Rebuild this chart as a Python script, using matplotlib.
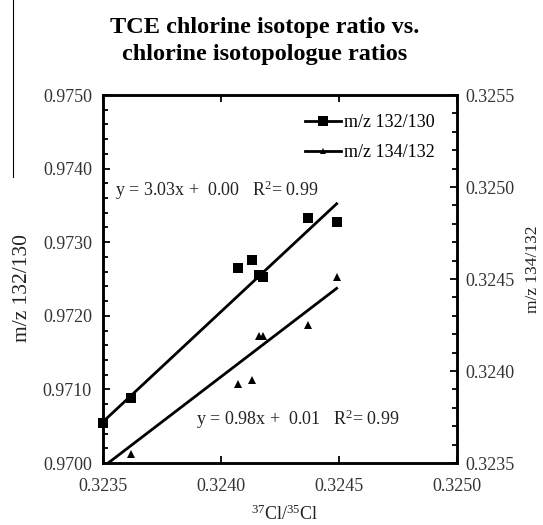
import numpy as np
import matplotlib
matplotlib.use("Agg")
import matplotlib.pyplot as plt
from matplotlib.lines import Line2D
from matplotlib.ticker import MultipleLocator, FormatStrFormatter

plt.rcParams['font.family'] = 'serif'
plt.rcParams['font.serif'] = ['Liberation Serif', 'DejaVu Serif']
plt.rcParams['mathtext.fontset'] = 'custom'
plt.rcParams['mathtext.rm'] = 'Liberation Serif'
plt.rcParams['mathtext.it'] = 'Liberation Serif:italic'

title = "TCE chlorine isotope ratio vs.\nchlorine isotopologue ratios"

# 37Cl/35Cl vs m/z 132/130
x_132_130 = [0.32350, 0.32362, 0.32407, 0.32413, 0.32416, 0.32418, 0.32437, 0.32449]
y_132_130 = [0.97054, 0.97088, 0.97265, 0.97276, 0.97256, 0.97253, 0.97333, 0.97327]

# 37Cl/35Cl vs m/z 134/132
x_134_132 = [0.32362, 0.32407, 0.32413, 0.32416, 0.32418, 0.32437, 0.32449]
y_134_132 = [0.32355, 0.32393, 0.32395, 0.32419, 0.32419, 0.32425, 0.32451]

# linear fits as drawn (slope, intercept) and their x range
fit_132_130 = [2.992, 0.002648]
fit_134_132 = [0.9804, 0.006319]
fit_x_range = [0.32350, 0.32449]

legend_labels = ["m/z 132/130", "m/z 134/132"]
eq1 = r"y = 3.03x +  0.00   R$^2$= 0.99"
eq2 = r"y = 0.98x +  0.01   R$^2$= 0.99"

W, H = 543, 525
fig = plt.figure(figsize=(W / 100, H / 100), dpi=100)
ax = fig.add_axes([103 / W, 1 - 463 / H, (457 - 103) / W, (463 - 95) / H])
ax2 = ax.twinx()

fs = 13

xf = np.array(fit_x_range)

# series 1
ax.plot(x_132_130, y_132_130, 's', color='black', ms=6.5, mew=0, clip_on=False)
ax.plot(xf, np.polyval(fit_132_130, xf), '-', color='black', lw=2)

# series 2
ax2.plot(x_134_132, y_134_132, '^', color='black', ms=5.5, mew=0)
ax2.plot(xf, np.polyval(fit_134_132, xf), '-', color='black', lw=2)

ax.set_xlim(0.3235, 0.3250)
ax.set_ylim(0.9700, 0.9750)
ax2.set_ylim(0.3235, 0.3255)

ax.xaxis.set_major_locator(MultipleLocator(0.0005))
ax.xaxis.set_major_formatter(FormatStrFormatter('%.4f'))
ax.yaxis.set_major_locator(MultipleLocator(0.0010))
ax.yaxis.set_minor_locator(MultipleLocator(0.0002))
ax.yaxis.set_major_formatter(FormatStrFormatter('%.4f'))
ax2.yaxis.set_major_locator(MultipleLocator(0.0005))
ax2.yaxis.set_minor_locator(MultipleLocator(0.0001))
ax2.yaxis.set_major_formatter(FormatStrFormatter('%.4f'))

ax.tick_params(axis='x', which='major', direction='in', top=True, length=5, width=1.3,
               labelsize=fs, pad=11)
ax.tick_params(axis='y', which='major', direction='in', right=False, length=5, width=1.3,
               labelsize=fs, pad=8)
ax.tick_params(axis='y', which='minor', direction='in', right=False, length=3.5, width=1.3)
ax2.tick_params(axis='y', which='major', direction='in', length=5, width=1.3,
                labelsize=fs, pad=6)
ax2.tick_params(axis='y', which='minor', direction='in', length=3.5, width=1.3)

for a in (ax, ax2):
    for s in a.spines.values():
        s.set_linewidth(1.8)

for lab in ax.get_xticklabels() + ax.get_yticklabels() + ax2.get_yticklabels():
    lab.set_color('#333333')

fig.text(23 / W, 1 - 288 / H, "m/z 132/130", rotation=90, ha='center', va='center',
         fontsize=15.5, color='#222222')
fig.text(533 / W, 1 - 269 / H, "m/z 134/132", rotation=90, ha='center', va='center',
         fontsize=12.5, color='#222222')
fig.text(285 / W, 1 - 514 / H, r"$^{37}$Cl/$^{35}$Cl", ha='center', va='center',
         fontsize=fs, color='#222222')
fig.text(265 / W, 1 - 41 / H, title, ha='center', va='center', fontsize=17.5,
         fontweight='bold', linespacing=1.42)

ax.text(115 / W, 1 - 190 / H, eq1, transform=fig.transFigure, ha='left', va='center',
        fontsize=fs, color='#222222')
ax.text(196 / W, 1 - 419 / H, eq2, transform=fig.transFigure, ha='left', va='center',
        fontsize=fs, color='#222222')

handles = [Line2D([], [], color='black', lw=2, marker='s', ms=6.5, mew=0),
           Line2D([], [], color='black', lw=2, marker='^', ms=4, mew=0)]
ax2.legend(handles, legend_labels, loc='upper left', bbox_to_anchor=(305 / W, 1 - 114 / H),
           bbox_transform=fig.transFigure,
           frameon=False, fontsize=fs, handlelength=2.0, handletextpad=0.15,
           labelspacing=0.72, borderaxespad=0, borderpad=0)

fig.add_artist(Line2D([12.5 / W, 12.5 / W], [1.0, 1 - 177 / H], color='black', lw=0.8))

fig.savefig("out.png", dpi=100)
